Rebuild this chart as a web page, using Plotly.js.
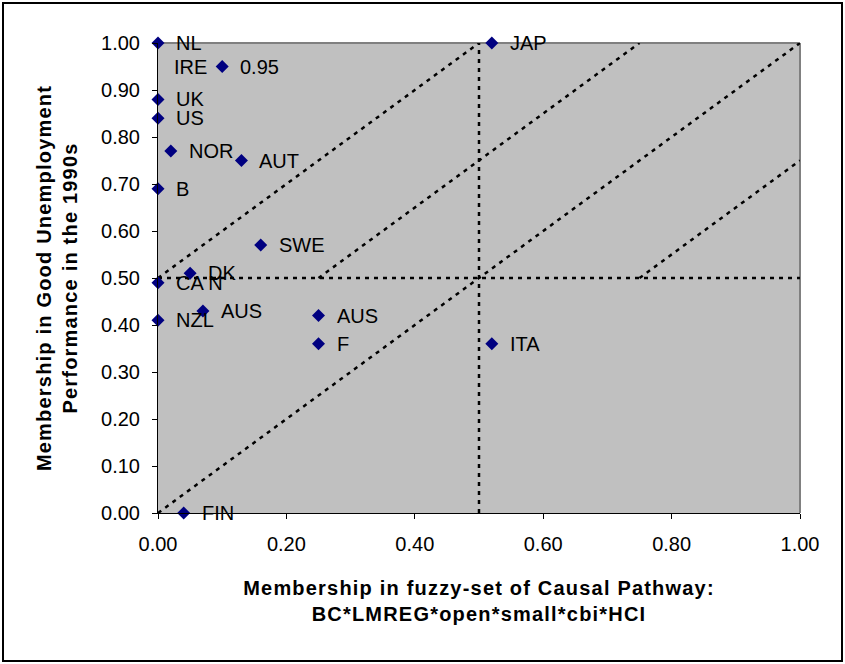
<!DOCTYPE html>
<html>
<head>
<meta charset="utf-8">
<script src="https://cdn.plot.ly/plotly-3.0.1.min.js"></script>
<style>
  html, body { margin: 0; padding: 0; background: #ffffff; }
  #chart { width: 845px; height: 664px; }
  #chart .xtitle, #chart .ytitle { letter-spacing: 1.2px; }
</style>
</head>
<body>
<div id="chart"></div>
<script>
// ---- Data ----
const countries = ["NL", "IRE", "UK", "US", "NOR", "AUT", "B", "SWE", "DK", "CA N", "AUS", "NZL", "AUS", "F", "ITA", "JAP", "FIN"];
const pathwayMembership = [0.00, 0.10, 0.00, 0.00, 0.02, 0.13, 0.00, 0.16, 0.05, 0.00, 0.07, 0.00, 0.25, 0.25, 0.52, 0.52, 0.04];
const unemploymentMembership = [1.00, 0.95, 0.88, 0.84, 0.77, 0.75, 0.69, 0.57, 0.51, 0.49, 0.43, 0.41, 0.42, 0.36, 0.36, 1.00, 0.00];
// label side for each country name: "right" or "left"
const labelSide = ["right", "left", "right", "right", "right", "right", "right", "right", "right", "right", "right", "right", "right", "right", "right", "right", "right"];
// extra value label shown for IRE
const valueLabelCountry = ["IRE"];
const valueLabelText = ["0.95"];

// dotted reference diagonals (segment endpoints)
const diagX0 = [0.00, 0.25, 0.00, 0.75];
const diagY0 = [0.50, 0.50, 0.00, 0.50];
const diagX1 = [0.50, 0.75, 1.00, 1.00];
const diagY1 = [1.00, 1.00, 1.00, 0.75];
// crossover threshold lines
const threshold = 0.5;

const xTickVals = [0, 0.2, 0.4, 0.6, 0.8, 1.0];
const yTickVals = [0, 0.1, 0.2, 0.3, 0.4, 0.5, 0.6, 0.7, 0.8, 0.9, 1.0];

// ---- Build traces ----
const dotLine = { color: "#000000", width: 2.5, dash: "4px,5px" };
const traces = [];
for (let i = 0; i < diagX0.length; i++) {
  traces.push({
    type: "scatter", mode: "lines",
    x: [diagX0[i], diagX1[i]], y: [diagY0[i], diagY1[i]],
    line: dotLine, hoverinfo: "skip", showlegend: false
  });
}
traces.push({
  type: "scatter", mode: "lines", x: [0, 1], y: [threshold, threshold],
  line: dotLine, hoverinfo: "skip", showlegend: false
});
traces.push({
  type: "scatter", mode: "lines", x: [threshold, threshold], y: [0, 1],
  line: dotLine, hoverinfo: "skip", showlegend: false
});
traces.push({
  type: "scatter", mode: "markers",
  x: pathwayMembership, y: unemploymentMembership, text: countries,
  marker: { symbol: "diamond", size: 10, color: "#000080", line: { width: 0 } },
  cliponaxis: false, showlegend: false
});

const labelFont = { family: "Arial, 'Liberation Sans', sans-serif", size: 20, color: "#000000" };
const annotations = countries.map((c, i) => ({
  x: pathwayMembership[i], y: unemploymentMembership[i], xref: "x", yref: "y",
  text: c, showarrow: false, font: labelFont,
  xanchor: labelSide[i] === "left" ? "right" : "left",
  yanchor: "middle",
  xshift: labelSide[i] === "left" ? -13 : 16
}));
valueLabelCountry.forEach((c, k) => {
  const i = countries.indexOf(c);
  annotations.push({
    x: pathwayMembership[i], y: unemploymentMembership[i], xref: "x", yref: "y",
    text: valueLabelText[k], showarrow: false, font: labelFont,
    xanchor: "left", yanchor: "middle", xshift: 16
  });
});

// ---- Layout ----
const L = 158, R = 45, T = 43, B = 151, W = 845, H = 664;
const pw = W - L - R, ph = H - T - B;
const px = v => (v - L) / pw;          // pixel -> paper x
const py = v => (H - B - v) / ph;      // pixel -> paper y

const tickFont = { family: "Arial, 'Liberation Sans', sans-serif", size: 20, color: "#000000" };
const titleFont = { family: "Arial, 'Liberation Sans', sans-serif", size: 20, color: "#000000", weight: "bold" };

const layout = {
  width: W, height: H,
  margin: { l: L, r: R, t: T, b: B, pad: 0 },
  paper_bgcolor: "#ffffff",
  plot_bgcolor: "#c0c0c0",
  showlegend: false,
  hovermode: "closest",
  xaxis: {
    range: [0, 1], tickvals: xTickVals, tickformat: ".2f",
    ticks: "outside", ticklen: 5, tickcolor: "#000000", tickwidth: 1,
    showline: true, linecolor: "#000000", linewidth: 1,
    showgrid: false, zeroline: false, tickfont: tickFont,
    ticklabelstandoff: 8,
    title: { text: "Membership in fuzzy-set of Causal Pathway:<br>BC*LMREG*open*small*cbi*HCI", font: titleFont, standoff: 26 },
    automargin: false, fixedrange: true
  },
  yaxis: {
    range: [0, 1], tickvals: yTickVals, tickformat: ".2f",
    ticks: "outside", ticklen: 5, tickcolor: "#000000", tickwidth: 1,
    showline: true, linecolor: "#000000", linewidth: 1,
    showgrid: false, zeroline: false, tickfont: tickFont,
    ticklabelstandoff: 8,
    title: { text: "Membership in Good Unemployment<br>Performance in the 1990s", font: titleFont, standoff: 18 },
    automargin: false, fixedrange: true
  },
  annotations: annotations,
  shapes: [
    { type: "line", xref: "paper", yref: "paper", x0: 0, x1: 1, y0: 1, y1: 1, line: { color: "#808080", width: 2 }, layer: "below" },
    { type: "line", xref: "paper", yref: "paper", x0: 1, x1: 1, y0: 0, y1: 1, line: { color: "#808080", width: 2 }, layer: "below" },
    { type: "rect", xref: "paper", yref: "paper", x0: px(3), x1: px(842), y0: py(661), y1: py(3), line: { color: "#000000", width: 2 }, fillcolor: "rgba(0,0,0,0)", layer: "above" }
  ]
};

Plotly.newPlot("chart", traces, layout, { displayModeBar: false, staticPlot: true });
</script>
</body>
</html>
